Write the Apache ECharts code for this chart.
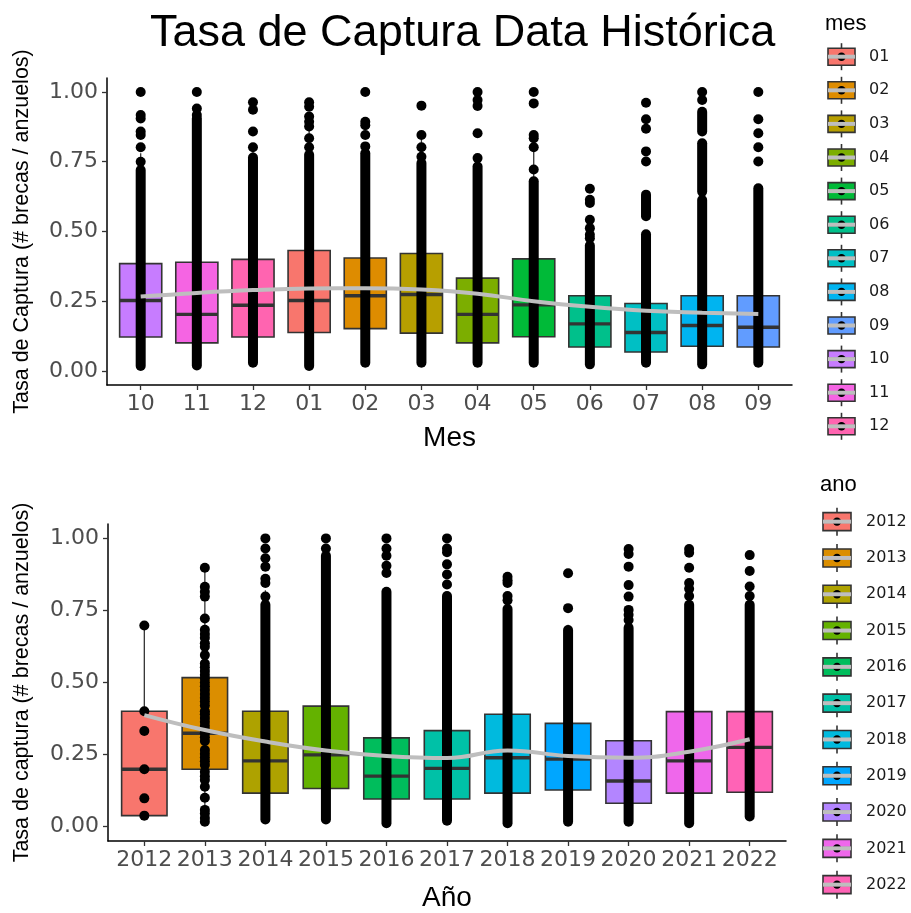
<!DOCTYPE html>
<html><head><meta charset="utf-8">
<script src="https://cdn.jsdelivr.net/npm/echarts@6/dist/echarts.min.js"></script>
<style>html,body{margin:0;padding:0;background:#fff}#c{width:911px;height:913px}</style>
</head><body><div id="c"></div>
<script>
// ---------- data: top panel (by month) ----------
const monthLevels = ['01','02','03','04','05','06','07','08','09','10','11','12'];
const monthColors = ['#F8766D','#DE8C00','#B79F00','#7CAE00','#00BA38','#00C08B','#00BFC4','#00B4F0','#619CFF','#C77CFF','#F564E3','#FF64B0'];
const monthOrder = ['10','11','12','01','02','03','04','05','06','07','08','09'];
// [lower whisker, Q1, median, Q3, upper whisker]
const monthBoxes = [
  [0.018,0.122,0.253,0.385,0.78],
  [0.02,0.101,0.203,0.39,0.82],
  [0.03,0.122,0.236,0.40,0.81],
  [0.018,0.138,0.253,0.432,0.87],
  [0.03,0.152,0.27,0.405,0.78],
  [0.03,0.136,0.274,0.421,0.84],
  [0.03,0.101,0.203,0.333,0.68],
  [0.03,0.123,0.237,0.402,0.802],
  [0.024,0.086,0.169,0.27,0.54],
  [0.03,0.068,0.138,0.242,0.50],
  [0.024,0.089,0.163,0.27,0.54],
  [0.03,0.086,0.157,0.27,0.54]
];
// isolated observation points
const monthPoints = [
  [1.00,0.917,0.905,0.858,0.846,0.802,0.75],
  [1.00,0.941,0.917],
  [0.963,0.936,0.858,0.802],
  [0.963,0.947,0.912,0.893,0.876,0.834,0.802],
  [1.00,0.893,0.881,0.846,0.805],
  [0.951,0.846,0.802,0.768],
  [1.00,0.971,0.95,0.852,0.763],
  [1.00,0.959,0.846,0.834,0.802,0.722],
  [0.653,0.614,0.602,0.542,0.512,0.488,0.476],
  [0.961,0.902,0.868,0.787,0.751],
  [1.00,0.971],
  [1.00,0.902,0.852,0.802,0.751]
];
// ranges where observation points overlap into a solid column [from, to]
const monthDense = [
  [[0.018,0.72]],
  [[0.02,0.905]],
  [[0.03,0.765]],
  [[0.018,0.775]],
  [[0.03,0.78]],
  [[0.03,0.745]],
  [[0.03,0.733]],
  [[0.03,0.68]],
  [[0.024,0.45]],
  [[0.03,0.49],[0.555,0.632]],
  [[0.024,0.613],[0.643,0.816],[0.858,0.929]],
  [[0.03,0.655]]
];
const monthSmooth = [0.267,0.28,0.29,0.296,0.297,0.292,0.277,0.25,0.23,0.216,0.209,0.204];

// ---------- data: bottom panel (by year) ----------
const yearLevels = ['2012','2013','2014','2015','2016','2017','2018','2019','2020','2021','2022'];
const yearColors = ['#F8766D','#DB8E00','#AEA200','#64B200','#00BD5C','#00C1A7','#00BADE','#00A6FF','#B385FF','#EF67EB','#FF63B6'];
const yearBoxes = [
  [0.038,0.038,0.199,0.40,0.698],
  [0.02,0.199,0.324,0.517,0.898],
  [0.025,0.116,0.228,0.40,0.82],
  [0.025,0.132,0.249,0.418,0.845],
  [0.012,0.096,0.175,0.308,0.62],
  [0.02,0.096,0.202,0.333,0.69],
  [0.012,0.116,0.239,0.39,0.80],
  [0.017,0.127,0.234,0.358,0.70],
  [0.017,0.081,0.158,0.298,0.62],
  [0.012,0.116,0.228,0.399,0.82],
  [0.035,0.119,0.275,0.399,0.81]
];
const yearPoints = [
  [0.698,0.40,0.332,0.199,0.098,0.038],
  [0.898,0.832,0.815,0.798,0.722,0.683,0.668,0.655,0.636,0.624,0.595,0.566,0.553,0.54,0.527,0.514,0.50,0.487,0.474,0.46,0.447,0.434,0.42,0.40,0.39,0.377,0.364,0.35,0.337,0.324,0.31,0.297,0.266,0.253,0.24,0.227,0.214,0.19,0.175,0.162,0.138,0.10,0.058,0.045,0.03,0.017],
  [1.0,0.965,0.931,0.902,0.86,0.845,0.798],
  [1.0,0.965],
  [1.0,0.965,0.94,0.905,0.88],
  [1.0,0.965,0.952,0.91,0.875,0.84],
  [0.867,0.855,0.845,0.80,0.785],
  [0.879,0.758],
  [0.963,0.946,0.902,0.838,0.798,0.752,0.735,0.717],
  [0.963,0.95,0.898,0.845,0.825,0.80],
  [0.942,0.887,0.833,0.80]
];
const yearDense = [
  [],
  [],
  [[0.025,0.77]],
  [[0.025,0.94]],
  [[0.012,0.815]],
  [[0.02,0.80]],
  [[0.012,0.755]],
  [[0.017,0.682]],
  [[0.017,0.69]],
  [[0.012,0.77]],
  [[0.035,0.77]]
];
const yearSmooth = [0.387,0.335,0.295,0.264,0.245,0.238,0.264,0.245,0.239,0.26,0.303];

const yTicks = [0, 0.25, 0.5, 0.75, 1.0];

// ---------- styles ----------
const TXT = 'Liberation Sans, Arial, sans-serif';
const NUM = 'DejaVu Sans, sans-serif';
const EDGE = '#333333';

function panelSeries(gi, boxes, colors, points, dense, smooth) {
  const boxData = boxes.map((b, i) => [i].concat(b));
  const ptData = [];
  points.forEach((arr, i) => arr.forEach(v => ptData.push([i, v])));
  const denseData = [];
  dense.forEach((arr, i) => arr.forEach(s => denseData.push([i, s[0], s[1]])));
  const smoothData = smooth.map((v, i) => [i, v]);
  return [
    {
      type: 'custom', xAxisIndex: gi, yAxisIndex: gi, data: boxData, z: 2, silent: true,
      encode: { x: 0, y: [1, 2, 3, 4, 5] },
      renderItem: function (params, api) {
        const i = api.value(0);
        const w = api.size([0.75, 0])[0];
        const cx = api.coord([i, 0])[0];
        const yLo = api.coord([i, api.value(1)])[1];
        const yQ1 = api.coord([i, api.value(2)])[1];
        const yMd = api.coord([i, api.value(3)])[1];
        const yQ3 = api.coord([i, api.value(4)])[1];
        const yHi = api.coord([i, api.value(5)])[1];
        return { type: 'group', children: [
          { type: 'line', shape: { x1: cx, y1: yQ3, x2: cx, y2: yHi }, style: { stroke: EDGE, lineWidth: 1.3 } },
          { type: 'line', shape: { x1: cx, y1: yQ1, x2: cx, y2: yLo }, style: { stroke: EDGE, lineWidth: 1.3 } },
          { type: 'rect', shape: { x: cx - w / 2, y: yQ3, width: w, height: yQ1 - yQ3 }, style: { fill: colors[params.dataIndex], stroke: EDGE, lineWidth: 1.6 } },
          { type: 'line', shape: { x1: cx - w / 2, y1: yMd, x2: cx + w / 2, y2: yMd }, style: { stroke: EDGE, lineWidth: 3.4 } }
        ] };
      }
    },
    {
      type: 'custom', xAxisIndex: gi, yAxisIndex: gi, data: denseData, z: 3, silent: true,
      encode: { x: 0, y: [1, 2] },
      renderItem: function (params, api) {
        const a = api.coord([api.value(0), api.value(1)]);
        const b = api.coord([api.value(0), api.value(2)]);
        return { type: 'line', shape: { x1: a[0], y1: a[1], x2: b[0], y2: b[1] }, style: { stroke: '#000', lineWidth: 10, lineCap: 'round' } };
      }
    },
    {
      type: 'scatter', xAxisIndex: gi, yAxisIndex: gi, data: ptData, z: 4, silent: true,
      symbol: 'circle', symbolSize: 10, itemStyle: { color: '#000', opacity: 1 }
    },
    {
      type: 'line', xAxisIndex: gi, yAxisIndex: gi, data: smoothData, z: 5, silent: true,
      smooth: 0.45, showSymbol: false, lineStyle: { color: '#BEBEBE', width: 4 }
    }
  ];
}

function legendSeries(gi, levels, colors, boxH) {
  return {
    type: 'custom', xAxisIndex: gi, yAxisIndex: gi, silent: true, z: 2,
    data: levels.map((l, i) => [0.5, i]),
    renderItem: function (params, api) {
      const idx = api.value(1);
      const c = api.coord([0.5, idx]);
      const x0 = api.coord([0, idx])[0];
      const x1 = api.coord([1, idx])[0];
      const h = boxH;
      return { type: 'group', children: [
        { type: 'line', shape: { x1: c[0], y1: c[1] - h / 2 - 5, x2: c[0], y2: c[1] + h / 2 + 5 }, style: { stroke: EDGE, lineWidth: 1.6 } },
        { type: 'rect', shape: { x: x0, y: c[1] - h / 2, width: x1 - x0, height: h }, style: { fill: colors[params.dataIndex], stroke: EDGE, lineWidth: 1.6 } },
        { type: 'line', shape: { x1: x0, y1: c[1], x2: x1, y2: c[1] }, style: { stroke: EDGE, lineWidth: 3 } },
        { type: 'circle', shape: { cx: c[0], cy: c[1], r: 4.2 }, style: { fill: '#000' } },
        { type: 'line', shape: { x1: x0, y1: c[1], x2: x1, y2: c[1] }, style: { stroke: '#BEBEBE', lineWidth: 4 } }
      ] };
    }
  };
}

function catXAxis(gi, cats, name, gap) {
  const idx = cats.map((c, i) => i);
  return {
    type: 'value', gridIndex: gi, min: -0.6, max: cats.length - 1 + 0.6,
    name: name, nameLocation: 'middle', nameGap: gap,
    nameTextStyle: { fontSize: 28, color: '#000', fontFamily: TXT },
    axisLine: { show: true, onZero: false, lineStyle: { color: '#000', width: 1.5 } },
    axisTick: { show: true, customValues: idx, length: 5, lineStyle: { color: EDGE, width: 1.3 } },
    axisLabel: { customValues: idx, formatter: v => cats[Math.round(v)], margin: 8, fontSize: 22, color: '#4D4D4D', fontFamily: NUM },
    splitLine: { show: false }
  };
}
function valYAxis(gi, name, gap) {
  return {
    type: 'value', gridIndex: gi, min: -0.05, max: 1.05,
    name: name, nameLocation: 'middle', nameGap: gap,
    nameTextStyle: { fontSize: 21.5, color: '#000', fontFamily: TXT },
    axisLine: { show: true, onZero: false, lineStyle: { color: '#000', width: 1.5 } },
    axisTick: { show: true, customValues: yTicks, length: 5, lineStyle: { color: EDGE, width: 1.3 } },
    axisLabel: { customValues: yTicks, formatter: v => v.toFixed(2), margin: 9, fontSize: 22, color: '#4D4D4D', fontFamily: NUM },
    splitLine: { show: false }
  };
}
function legendYAxis(gi, levels, margin) {
  return {
    type: 'category', gridIndex: gi, data: levels, inverse: true, position: 'right',
    axisLine: { show: false, onZero: false }, axisTick: { show: false },
    axisLabel: { margin: margin, fontSize: 16, color: '#1A1A1A', fontFamily: NUM, align: 'left' },
    splitLine: { show: false }
  };
}
function legendXAxis(gi) {
  return { type: 'value', gridIndex: gi, min: 0, max: 1, show: false };
}

const monthColorsOrdered = monthOrder.map(m => monthColors[monthLevels.indexOf(m)]);

const option = {
  backgroundColor: '#fff',
  animation: false,
  title: [
    { text: 'Tasa de Captura Data Histórica', left: 150, top: 11, padding: 0,
      textStyle: { fontSize: 45, fontWeight: 'normal', color: '#000', fontFamily: TXT } },
    { text: 'mes', left: 825, top: 13, padding: 0,
      textStyle: { fontSize: 22, fontWeight: 'normal', color: '#000', fontFamily: TXT } },
    { text: 'ano', left: 820, top: 474, padding: 0,
      textStyle: { fontSize: 22, fontWeight: 'normal', color: '#000', fontFamily: TXT } }
  ],
  grid: [
    { left: 107, top: 78, width: 685, height: 307, containLabel: false, outerBoundsMode: 'none' },
    { left: 108, top: 524, width: 678, height: 317, containLabel: false, outerBoundsMode: 'none' },
    { left: 828, top: 39.9, width: 27, height: 403.2, containLabel: false, outerBoundsMode: 'none' },
    { left: 823, top: 503.5, width: 28, height: 399.3, containLabel: false, outerBoundsMode: 'none' }
  ],
  xAxis: [
    catXAxis(0, monthOrder, 'Mes', 39),
    catXAxis(1, yearLevels, 'Año', 43),
    legendXAxis(2),
    legendXAxis(3)
  ],
  yAxis: [
    valYAxis(0, 'Tasa de Captura (# brecas / anzuelos)', 74),
    valYAxis(1, 'Tasa de captura (# brecas / anzuelos)', 75),
    legendYAxis(2, monthLevels, 14),
    legendYAxis(3, yearLevels, 15)
  ],
  series: [].concat(
    panelSeries(0, monthBoxes, monthColorsOrdered, monthPoints, monthDense, monthSmooth),
    panelSeries(1, yearBoxes, yearColors, yearPoints, yearDense, yearSmooth),
    [legendSeries(2, monthLevels, monthColors, 17), legendSeries(3, yearLevels, yearColors, 18)]
  )
};

const chart = echarts.init(document.getElementById('c'), null, { renderer: 'canvas' });
chart.setOption(option);
</script>
</body></html>
